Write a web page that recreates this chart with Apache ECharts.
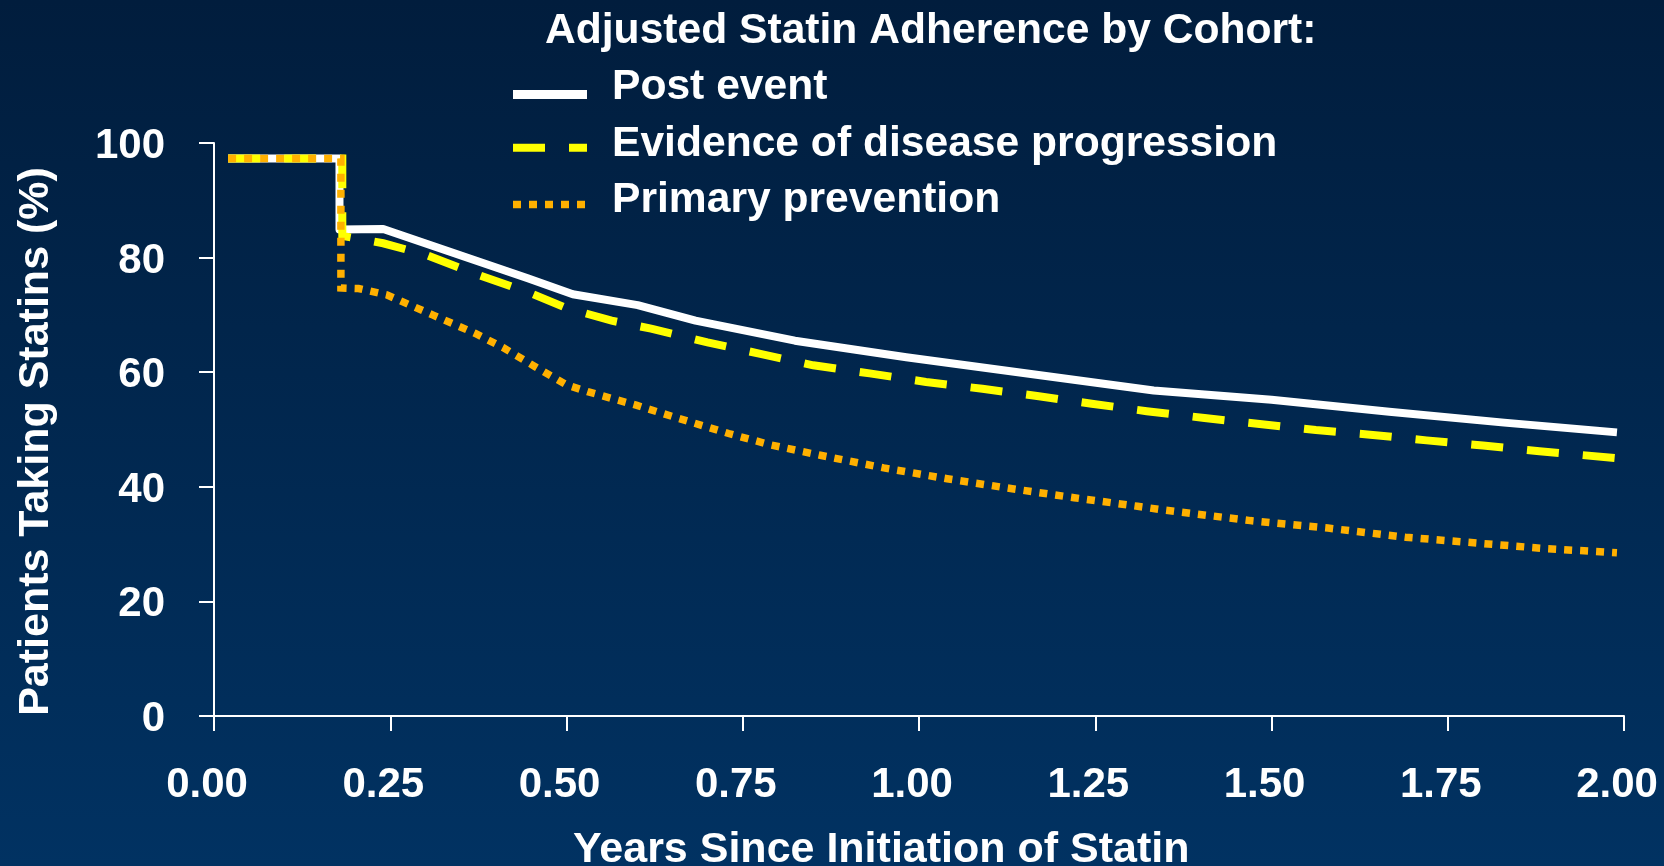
<!DOCTYPE html>
<html>
<head>
<meta charset="utf-8">
<title>Adjusted Statin Adherence by Cohort</title>
<script src="https://cdn.jsdelivr.net/npm/echarts@6/dist/echarts.min.js"></script>
<style>
  html, body { margin: 0; padding: 0; background: #00244a; }
  #chart { width: 1664px; height: 866px; }
</style>
</head>
<body>
<div id="chart"></div>
<script>
// Cohort names (legend order)
const seriesNames = ['Post event', 'Evidence of disease progression', 'Primary prevention'];

// Post event cohort: years since initiation / % still taking statins
const postEventYears = [0.02, 0.178, 0.178, 0.24, 0.445, 0.509, 0.601, 0.683, 0.824, 0.982, 1.333, 1.5, 1.667, 1.83, 1.99];
const postEventPct   = [97.3, 97.3, 84.9, 85.0, 76.4, 73.6, 71.7, 69.0, 65.5, 62.6, 56.8, 55.2, 53.1, 51.2, 49.5];

// Evidence of disease progression cohort
const progressionYears = [0.02, 0.182, 0.182, 0.24, 0.3, 0.37, 0.445, 0.5, 0.564, 0.62, 0.7, 0.775, 0.85, 0.93, 1.01, 1.09, 1.17, 1.245, 1.323, 1.405, 1.48, 1.563, 1.64, 1.72, 1.8, 1.88, 1.99];
const progressionPct   = [97.3, 97.3, 83.8, 82.5, 80.5, 77.2, 74.0, 71.2, 69.0, 67.6, 65.2, 63.2, 61.2, 59.8, 58.3, 57.1, 55.8, 54.5, 53.2, 52.0, 51.0, 49.9, 49.1, 48.1, 47.2, 46.2, 45.0];

// Primary prevention cohort
const preventionYears = [0.02, 0.18, 0.18, 0.205, 0.245, 0.31, 0.37, 0.41, 0.455, 0.5, 0.53, 0.6, 0.66, 0.73, 0.79, 0.86, 0.95, 1.04, 1.13, 1.22, 1.31, 1.35, 1.47, 1.58, 1.69, 1.8, 1.89, 1.99];
const preventionPct   = [97.3, 97.3, 74.7, 74.6, 73.5, 70.0, 66.8, 64.3, 61.0, 57.8, 56.6, 54.2, 51.9, 49.3, 47.3, 45.5, 43.3, 41.4, 39.7, 38.1, 36.6, 35.9, 34.1, 32.8, 31.2, 30.1, 29.2, 28.5];

// Axis ticks
const xTickStep = 0.25, xMin = 0, xMax = 2;
const yTickStep = 20, yMin = 0, yMax = 100;

const chartTitle = 'Adjusted Statin Adherence by Cohort:';
const xAxisTitle = 'Years Since Initiation of Statin';
const yAxisTitle = 'Patients Taking Statins (%)';

const zip = (xs, ys) => xs.map((x, i) => [x, ys[i]]);

const FONT = '"Liberation Sans", Arial, sans-serif';
const WHITE = '#ffffff';
const YELLOW = '#ffff00';
const ORANGE = '#ffb000';

const lineStyles = [
  { color: WHITE, width: 8, type: 'solid', join: 'round', cap: 'butt' },
  { color: YELLOW, width: 8, type: [32, 24], join: 'miter', cap: 'butt' },
  { color: ORANGE, width: 7.5, type: [8, 8], join: 'miter', cap: 'butt' }
];
const seriesData = [
  zip(postEventYears, postEventPct),
  zip(progressionYears, progressionPct),
  zip(preventionYears, preventionPct)
];

const textStyle = { fontFamily: FONT, fontWeight: 'bold', fontSize: 42.6, fill: WHITE };
const axisTitleStyle = { fontFamily: FONT, fontWeight: 'bold', fontSize: 43, fill: WHITE };

// Legend: sample stroke + label for each cohort
const legendRows = [
  { lineY: 94.5, textY: 87.5 },
  { lineY: 147.7, textY: 144.5 },
  { lineY: 204.5, textY: 200 }
];
const legendGraphics = [];
seriesNames.forEach((name, i) => {
  const ls = lineStyles[i];
  legendGraphics.push({
    type: 'line',
    shape: { x1: 513, y1: legendRows[i].lineY, x2: 587, y2: legendRows[i].lineY },
    style: {
      stroke: ls.color,
      lineWidth: i === 0 ? 9 : ls.width,
      lineDash: ls.type === 'solid' ? null : ls.type,
      lineCap: 'butt'
    }
  });
  legendGraphics.push({
    type: 'text',
    x: 612, y: legendRows[i].textY,
    style: Object.assign({ text: name, verticalAlign: 'middle', align: 'left' }, textStyle)
  });
});

const chart = echarts.init(document.getElementById('chart'), null, { renderer: 'canvas' });

chart.setOption({
  animation: false,
  backgroundColor: {
    type: 'linear', x: 0, y: 0, x2: 0, y2: 1,
    colorStops: [
      { offset: 0, color: '#011d3d' },
      { offset: 1, color: '#013262' }
    ]
  },
  grid: { left: 214, right: 40, top: 143, bottom: 150, containLabel: false },
  xAxis: {
    type: 'value',
    min: xMin, max: xMax, interval: xTickStep,
    axisLine: { show: true, lineStyle: { color: WHITE, width: 2 } },
    axisTick: { show: true, inside: false, length: 15, lineStyle: { color: WHITE, width: 2 } },
    splitLine: { show: false },
    axisLabel: {
      color: WHITE, fontFamily: FONT, fontWeight: 'bold', fontSize: 42,
      margin: 48, padding: [0, 14, 0, 0],
      formatter: v => v.toFixed(2)
    }
  },
  yAxis: {
    type: 'value',
    min: yMin, max: yMax, interval: yTickStep,
    axisLine: { show: true, lineStyle: { color: WHITE, width: 2 } },
    axisTick: { show: true, inside: false, length: 15, lineStyle: { color: WHITE, width: 2 } },
    splitLine: { show: false },
    axisLabel: {
      color: WHITE, fontFamily: FONT, fontWeight: 'bold', fontSize: 42,
      margin: 49, verticalAlign: 'top', lineHeight: 7
    }
  },
  series: seriesNames.map((name, i) => ({
    name,
    type: 'line',
    data: seriesData[i],
    symbol: 'none',
    smooth: false,
    z: 2 + i,
    lineStyle: lineStyles[i]
  })),
  graphic: [
    {
      type: 'text', x: 545, y: 31.5,
      style: Object.assign({ text: chartTitle, verticalAlign: 'middle', align: 'left' }, textStyle)
    },
    {
      type: 'text', x: 573, y: 850,
      style: Object.assign({ text: xAxisTitle, verticalAlign: 'middle', align: 'left' }, axisTitleStyle)
    },
    {
      type: 'text', x: 36, y: 441.5, rotation: Math.PI / 2,
      style: Object.assign({ text: yAxisTitle, verticalAlign: 'middle', align: 'center' }, axisTitleStyle)
    }
  ].concat(legendGraphics)
});
</script>
</body>
</html>
